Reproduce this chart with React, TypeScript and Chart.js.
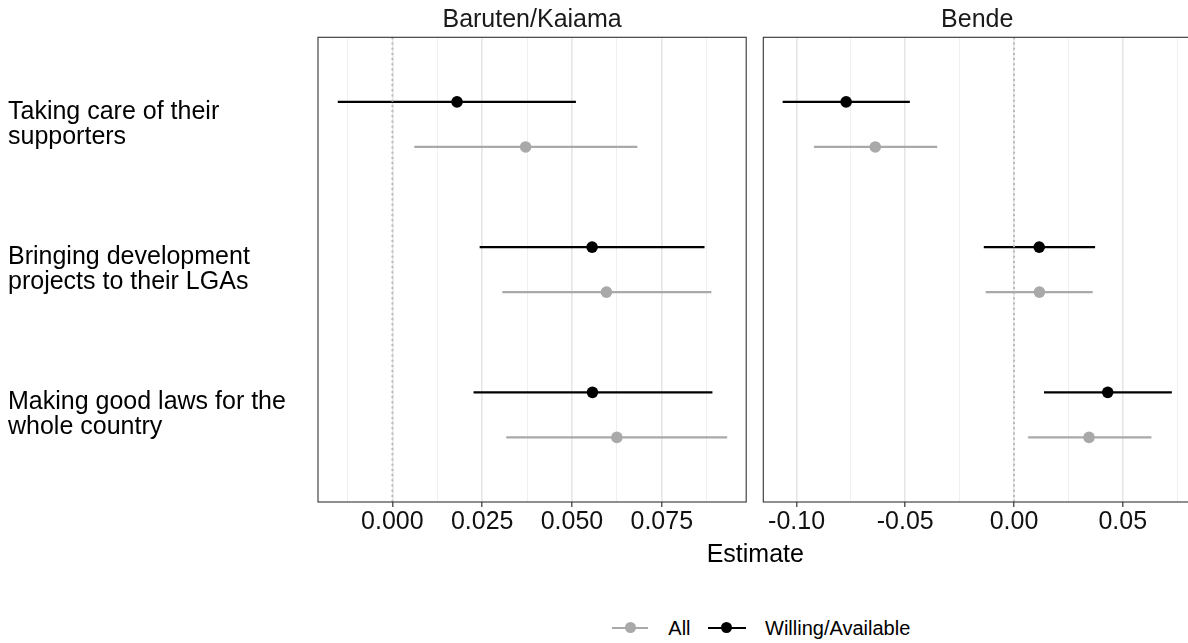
import React, { useEffect, useRef } from 'react';
import { Chart, registerables } from 'chart.js';

Chart.register(...registerables);

const FONT = '"Liberation Sans", Arial, Helvetica, sans-serif';

const categories = [
  ['Taking care of their', 'supporters'],
  ['Bringing development', 'projects to their LGAs'],
  ['Making good laws for the', 'whole country'],
];
const panelTitles = ['Baruten/Kaiama', 'Bende'];
const seriesNames = ['All', 'Willing/Available'];
const seriesColors = ['#a9a9a9', '#000000'];

// Baruten/Kaiama
const bkAllEst = [0.0371, 0.0596, 0.0625];
const bkAllLow = [0.0061, 0.0306, 0.0317];
const bkAllHigh = [0.0682, 0.0888, 0.0932];
const bkWillEst = [0.018, 0.0556, 0.0557];
const bkWillLow = [-0.0152, 0.0243, 0.0226];
const bkWillHigh = [0.0511, 0.0869, 0.0891];

// Bende
const beAllEst = [-0.0638, 0.0117, 0.0345];
const beAllLow = [-0.092, -0.013, 0.0065];
const beAllHigh = [-0.0353, 0.0362, 0.0632];
const beWillEst = [-0.0772, 0.0116, 0.0431];
const beWillLow = [-0.1064, -0.0139, 0.0138];
const beWillHigh = [-0.0479, 0.0373, 0.0726];

const bkTicks = [0, 0.025, 0.05, 0.075];
const bkTickLabels = ['0.000', '0.025', '0.050', '0.075'];
const bkRange = [-0.0207, 0.0985];

const beTicks = [-0.1, -0.05, 0, 0.05];
const beTickLabels = ['-0.10', '-0.05', '0.00', '0.05'];
const beRange = [-0.1153, 0.0815];

const DODGE = 0.155;

function buildDatasets(allEst, allLow, allHigh, willEst, willLow, willHigh) {
  const ds: any[] = [];
  ds.push({
    type: 'line',
    data: [{ x: 0, y: 0.4 }, { x: 0, y: 3.6 }],
    borderColor: '#b5b5b5',
    borderWidth: 1.8,
    borderDash: [2, 3.2],
    pointRadius: 0,
  });
  const series = [
    { est: allEst, lo: allLow, hi: allHigh, color: seriesColors[0], off: DODGE },
    { est: willEst, lo: willLow, hi: willHigh, color: seriesColors[1], off: -DODGE },
  ];
  series.forEach((s) => {
    s.est.forEach((_v, i) => {
      const y = i + 1 + s.off;
      ds.push({
        type: 'line',
        data: [{ x: s.lo[i], y }, { x: s.hi[i], y }],
        borderColor: s.color,
        borderWidth: 2.2,
        pointRadius: 0,
      });
    });
    ds.push({
      type: 'scatter',
      data: s.est.map((v, i) => ({ x: v, y: i + 1 + s.off })),
      backgroundColor: s.color,
      borderColor: s.color,
      borderWidth: 0,
      pointRadius: 5.8,
      pointHoverRadius: 5.8,
    });
  });
  return ds;
}

const panelPlugin = {
  id: 'panelDecor',
  afterDraw(chart, _args, opts) {
    const { ctx, chartArea } = chart;
    ctx.save();
    ctx.strokeStyle = '#333333';
    ctx.lineWidth = 1.1;
    ctx.strokeRect(chartArea.left, chartArea.top, chartArea.right - chartArea.left, chartArea.bottom - chartArea.top);
    ctx.fillStyle = '#1a1a1a';
    ctx.font = `25px ${FONT}`;
    ctx.textAlign = 'center';
    ctx.textBaseline = 'alphabetic';
    ctx.fillText(opts.title, (chartArea.left + chartArea.right) / 2, 26.7);
    ctx.restore();
  },
};

function makeConfig(opts) {
  const { datasets, majors, labels, range, title, showY, padding } = opts;
  const minors: number[] = [];
  for (let i = 0; i <= majors.length; i++) {
    const step = majors[1] - majors[0];
    const m = i === 0 ? majors[0] - step / 2 : majors[i - 1] + step / 2;
    if (m > range[0] && m < range[1]) minors.push(m);
  }
  const isMajor = (v) => majors.some((m) => Math.abs(m - v) < 1e-9);
  const allTicks = [...majors, ...minors].sort((a, b) => a - b);
  return {
    type: 'scatter',
    data: { datasets },
    options: {
      animation: false,
      responsive: false,
      maintainAspectRatio: false,
      devicePixelRatio: 1,
      events: [],
      layout: { padding },
      plugins: {
        legend: { display: false },
        tooltip: { enabled: false },
        title: { display: false },
        panelDecor: { title },
      },
      scales: {
        x: {
          type: 'linear',
          min: range[0],
          max: range[1],
          afterBuildTicks: (s) => {
            s.ticks = allTicks.map((v) => ({ value: v }));
          },
          afterFit: (s) => {
            s.height = 44;
          },
          ticks: {
            autoSkip: false,
            maxRotation: 0,
            padding: 0,
            color: '#111111',
            font: { family: FONT, size: 25, lineHeight: 1.2 },
            callback: (v) => {
              const i = majors.findIndex((m) => Math.abs(m - v) < 1e-9);
              return i >= 0 ? labels[i] : '';
            },
          },
          grid: {
            drawOnChartArea: true,
            color: (c) => (isMajor(c.tick.value) ? '#e6e6e6' : '#efefef'),
            lineWidth: (c) => (isMajor(c.tick.value) ? 1.6 : 1),
            tickColor: (c) => (isMajor(c.tick.value) ? '#333333' : 'rgba(0,0,0,0)'),
            tickWidth: 1.2,
            tickLength: 5,
          },
          border: { display: false },
        },
        y: {
          type: 'linear',
          display: showY,
          reverse: true,
          min: 0.4,
          max: 3.6,
          afterBuildTicks: (s) => {
            s.ticks = categories.map((_c, i) => ({ value: i + 1 }));
          },
          afterFit: (s) => {
            s.width = showY ? 310 : 0;
          },
          ticks: {
            crossAlign: 'far',
            padding: 0,
            color: '#000000',
            font: { family: FONT, size: 25, lineHeight: 1 },
            callback: (v) => categories[Math.round(v) - 1],
          },
          grid: { display: false },
          border: { display: false },
        },
      },
    },
    plugins: [panelPlugin],
  };
}

export default function App() {
  const leftRef = useRef<HTMLCanvasElement>(null);
  const rightRef = useRef<HTMLCanvasElement>(null);

  useEffect(() => {
    Chart.defaults.font.family = FONT;
    const left = new Chart(
      leftRef.current as HTMLCanvasElement,
      makeConfig({
        datasets: buildDatasets(bkAllEst, bkAllLow, bkAllHigh, bkWillEst, bkWillLow, bkWillHigh),
        majors: bkTicks,
        labels: bkTickLabels,
        range: bkRange,
        title: panelTitles[0],
        showY: true,
        padding: { left: 8, top: 37.3, right: 4.3, bottom: 0 },
      }) as any
    );
    const right = new Chart(
      rightRef.current as HTMLCanvasElement,
      makeConfig({
        datasets: buildDatasets(beAllEst, beAllLow, beAllHigh, beWillEst, beWillLow, beWillHigh),
        majors: beTicks,
        labels: beTickLabels,
        range: beRange,
        title: panelTitles[1],
        showY: false,
        padding: { left: 8.3, top: 37.3, right: 3.7, bottom: 0 },
      }) as any
    );
    return () => {
      left.destroy();
      right.destroy();
    };
  }, []);

  const textStyle: React.CSSProperties = {
    position: 'absolute',
    fontFamily: FONT,
    color: '#000',
    whiteSpace: 'nowrap',
  };

  return (
    <div
      style={{
        position: 'absolute',
        left: 0,
        top: 0,
        width: 1188,
        height: 643,
        overflow: 'hidden',
        background: '#ffffff',
      }}
    >
      <canvas
        ref={leftRef}
        width={752}
        height={546}
        style={{ position: 'absolute', left: 0, top: 0, width: 752, height: 546 }}
      />
      <canvas
        ref={rightRef}
        width={442}
        height={546}
        style={{ position: 'absolute', left: 755, top: 0, width: 442, height: 546 }}
      />
      <div
        style={{
          ...textStyle,
          left: 755.3,
          top: 538,
          fontSize: 25,
          lineHeight: '30px',
          transform: 'translateX(-50%)',
        }}
      >
        Estimate
      </div>
      {/* legend */}
      <div style={{ position: 'absolute', left: 611.7, top: 626.6, width: 36.6, height: 2.2, background: seriesColors[0] }} />
      <div style={{ position: 'absolute', left: 624.5, top: 622.2, width: 11, height: 11, borderRadius: '50%', background: seriesColors[0] }} />
      <div style={{ ...textStyle, left: 668.3, top: 616.4, fontSize: 20, lineHeight: '24px' }}>{seriesNames[0]}</div>
      <div style={{ position: 'absolute', left: 707.7, top: 626.6, width: 38, height: 2.2, background: seriesColors[1] }} />
      <div style={{ position: 'absolute', left: 721.2, top: 622.2, width: 11, height: 11, borderRadius: '50%', background: seriesColors[1] }} />
      <div style={{ ...textStyle, left: 765, top: 616.4, fontSize: 20, lineHeight: '24px' }}>{seriesNames[1]}</div>
    </div>
  );
}
